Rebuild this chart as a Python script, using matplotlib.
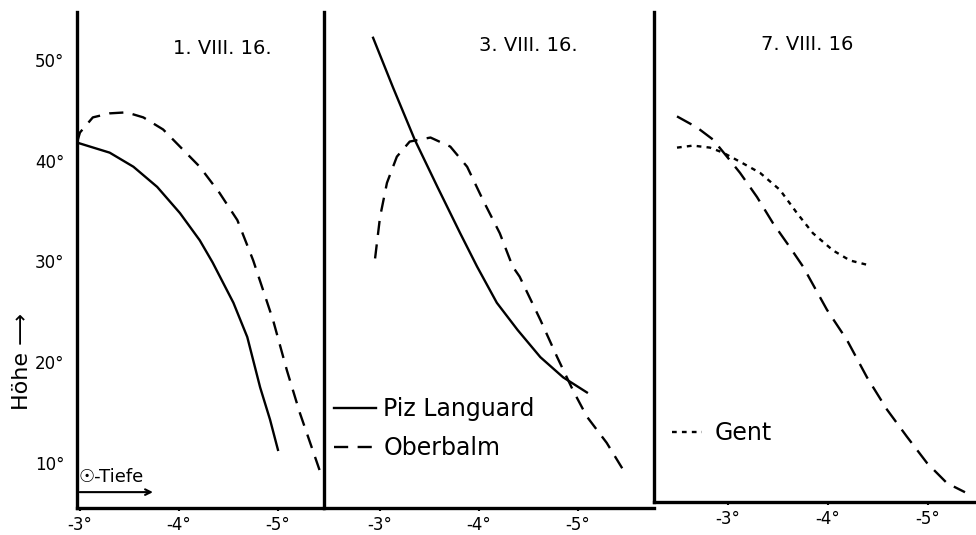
import matplotlib.pyplot as plt

# depth of the sun below horizon (degrees, shown as negative) vs height (Höhe, degrees)
panelTitles = ["1. VIII. 16.", "3. VIII. 16.", "7. VIII. 16"]
xTicks = [3, 4, 5]
xTickLabels = ["-3°", "-4°", "-5°"]
yTicks = [10, 20, 30, 40, 50]
yTickLabels = ["10°", "20°", "30°", "40°", "50°"]

# 1. VIII. 16
languard1X = [2.97, 3.30, 3.54, 3.78, 4.01, 4.21, 4.34, 4.55, 4.69, 4.82, 4.92, 5.00]
languard1Y = [41.8, 40.8, 39.4, 37.4, 34.8, 32.1, 29.9, 25.9, 22.5, 17.5, 14.3, 11.3]
oberbalm1X = [2.97, 3.00, 3.13, 3.30, 3.47, 3.64, 3.84, 4.01, 4.21, 4.41, 4.59, 4.75, 4.95, 5.09, 5.22, 5.42]
oberbalm1Y = [41.8, 42.8, 44.3, 44.7, 44.8, 44.3, 43.1, 41.4, 39.4, 36.8, 34.1, 30.1, 24.2, 19.2, 15.0, 9.3]

# 3. VIII. 16
languard3X = [2.93, 3.13, 3.35, 3.58, 3.81, 3.98, 4.18, 4.39, 4.62, 4.85, 5.09]
languard3Y = [52.2, 47.3, 42.1, 37.4, 32.8, 29.5, 25.9, 23.2, 20.5, 18.5, 17.0]
oberbalm3X = [2.95, 3.00, 3.07, 3.17, 3.30, 3.51, 3.71, 3.88, 4.04, 4.21, 4.34, 4.41, 4.62, 4.79, 4.95, 5.09, 5.29, 5.47]
oberbalm3Y = [30.3, 34.4, 37.8, 40.4, 41.9, 42.3, 41.4, 39.4, 36.1, 32.8, 29.5, 28.5, 24.2, 20.5, 17.2, 14.6, 12.0, 9.1]

# 7. VIII. 16
oberbalm7X = [2.49, 2.69, 2.85, 2.99, 3.12, 3.29, 3.45, 3.62, 3.75, 3.99, 4.19, 4.39, 4.59, 4.79, 4.99, 5.19, 5.37]
oberbalm7Y = [44.4, 43.3, 42.1, 40.4, 38.8, 36.4, 33.8, 31.4, 29.5, 25.2, 22.2, 18.5, 15.3, 12.6, 10.0, 8.0, 7.1]
gent7X = [2.49, 2.65, 2.82, 2.95, 3.12, 3.32, 3.52, 3.69, 3.85, 4.05, 4.22, 4.42]
gent7Y = [41.3, 41.5, 41.3, 40.8, 39.9, 38.8, 37.1, 34.8, 32.8, 31.1, 30.1, 29.6]

W, H = 976, 535
fig = plt.figure(figsize=(W / 100, H / 100), dpi=100, facecolor='white')

def addPanel(left, right, top, bottom):
    return fig.add_axes([left / W, 1 - bottom / H, (right - left) / W, (bottom - top) / H])

ax1 = addPanel(77, 323, 12, 508)
ax2 = addPanel(324, 654, 12, 508)
ax3 = addPanel(654, 976, 12, 502)

ax1.set_xlim(2.97, 5.455)
ax2.set_xlim(2.434, 5.768)
ax3.set_xlim(2.26, 5.48)
ax1.set_ylim(5.53, 54.76)
ax2.set_ylim(5.53, 54.76)
ax3.set_ylim(6.13, 54.76)

dashStyle = (0, (6, 4))
lw = 1.7
ax1.plot(languard1X, languard1Y, color='black', lw=lw, label='Piz Languard')
ax1.plot(oberbalm1X, oberbalm1Y, color='black', lw=lw, linestyle=dashStyle, label='Oberbalm')
ax2.plot(languard3X, languard3Y, color='black', lw=lw, label='Piz Languard')
ax2.plot(oberbalm3X, oberbalm3Y, color='black', lw=lw, linestyle=dashStyle, label='Oberbalm')
ax3.plot(oberbalm7X, oberbalm7Y, color='black', lw=lw, linestyle=(0, (7, 4)), label='Oberbalm')
gentLine, = ax3.plot(gent7X, gent7Y, color='black', lw=lw, linestyle=(0, (2, 2.2)), label='Gent')

for i, ax in enumerate([ax1, ax2, ax3]):
    ax.set_facecolor('white')
    for side in ['top', 'right']:
        ax.spines[side].set_visible(False)
    for side in ['left', 'bottom']:
        ax.spines[side].set_linewidth(2.4)
        ax.spines[side].set_color('black')
    ax.set_xticks(xTicks)
    ax.set_xticklabels(xTickLabels, fontsize=12)
    ax.tick_params(axis='x', length=2, width=1.5, pad=4)
    ax.set_yticks(yTicks)
    if i == 0:
        ax.set_yticklabels(yTickLabels, fontsize=12)
        ax.tick_params(axis='y', length=0, pad=9)
    else:
        ax.tick_params(axis='y', length=0, labelleft=False)

titlePos = [(0.59, 0.926), (0.62, 0.932), (0.475, 0.933)]
for ax, title, pos in zip([ax1, ax2, ax3], panelTitles, titlePos):
    ax.text(pos[0], pos[1], title, transform=ax.transAxes, ha='center', va='center', fontsize=14)

ax2.legend(loc='upper left', bbox_to_anchor=(0.03, 0.223), frameon=False, fontsize=17,
           handlelength=1.8, handletextpad=0.3, labelspacing=0.63, borderpad=0, borderaxespad=0)
ax3.legend(handles=[gentLine], loc='upper left', bbox_to_anchor=(0.055, 0.165), frameon=False, fontsize=17,
           handlelength=1.3, handletextpad=0.5, borderpad=0, borderaxespad=0)

# axis captions
fig.text(22 / W, 1 - 362 / H, 'Höhe ⟶', rotation=90, ha='center', va='center', fontsize=16)
ax1.text(0.005, 0.062, '☉-Tiefe', transform=ax1.transAxes, ha='left', va='center', fontsize=13)
ax1.annotate('', xy=(0.32, 0.032), xytext=(0.0, 0.032), xycoords='axes fraction',
             arrowprops=dict(arrowstyle='->', color='black', lw=1.5))

plt.savefig('out.png', dpi=100, facecolor='white')
